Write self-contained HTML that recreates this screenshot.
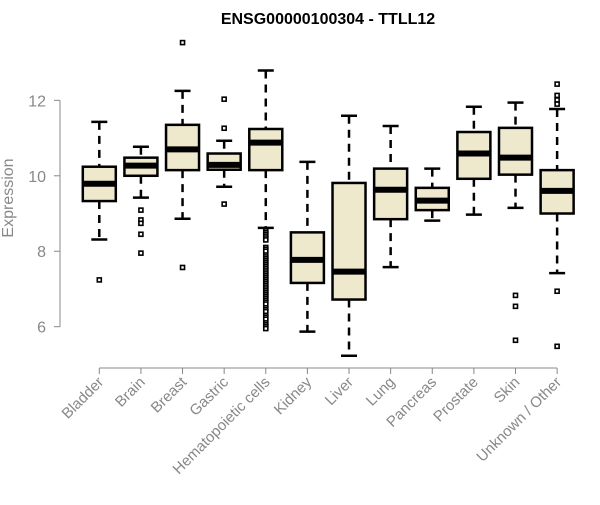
<!DOCTYPE html>
<html><head><meta charset="utf-8"><style>
body{margin:0;background:#fff}
svg text{font-family:"Liberation Sans",Arial,sans-serif}
</style></head><body>
<svg id="chart" width="600" height="500" xmlns="http://www.w3.org/2000/svg">
<text x="328" y="24" text-anchor="middle" font-size="16" font-weight="bold">ENSG00000100304 - TTLL12</text>
<text transform="translate(13,198) rotate(-90)" text-anchor="middle" font-size="16" fill="#888">Expression</text>
<g id="axes"></g><g id="boxes"></g>
</svg>
<script>
const categories=["Bladder","Brain","Breast","Gastric","Hematopoietic cells","Kidney","Liver","Lung","Pancreas","Prostate","Skin","Unknown / Other"];
const whiskLow=[8.31,9.42,8.86,9.71,8.62,5.87,5.23,7.58,8.81,8.97,9.15,7.42];
const q1=[9.33,10.0,10.15,10.16,10.15,7.16,6.72,8.85,9.09,9.92,10.03,9.0];
const medians=[9.79,10.27,10.70,10.29,10.88,7.77,7.46,9.63,9.34,10.59,10.48,9.60];
const q3=[10.24,10.48,11.35,10.59,11.24,8.50,9.81,10.19,9.68,11.16,11.27,10.15];
const whiskHigh=[11.43,10.77,12.25,10.93,12.79,10.37,11.59,11.32,10.19,11.83,11.94,11.77];
const outliers=[[7.24],[9.09,8.83,8.74,8.45,7.95],[13.53,7.57],[12.03,11.26,9.25],
[8.55,8.5,8.45,8.4,8.35,8.3,8.1,8.05,8.0,7.9,7.85,7.8,7.75,7.7,7.65,7.6,7.55,7.5,7.45,7.4,7.35,7.3,7.25,7.2,7.15,7.1,7.05,7.0,6.95,6.9,6.85,6.8,6.75,6.7,6.65,6.6,6.5,6.45,6.4,6.3,6.25,6.2,6.1,6.05,6.0,5.95],
[],[],[],[],[],[6.83,6.54,5.64],[12.43,12.13,12.01,11.90,6.94,5.48]];
const yTicks=[6,8,10,12];
const NS="http://www.w3.org/2000/svg";
function y(v){return 326.7-(v-6)*37.73;}
function x(i){return 99.3+i*41.62;}
function mk(tag,attrs,parent){const e=document.createElementNS(NS,tag);for(const k in attrs)e.setAttribute(k,attrs[k]);parent.appendChild(e);return e;}
const ax=document.getElementById('axes'),bx=document.getElementById('boxes');
let l=mk('line',{x1:60,x2:60,y1:y(12),y2:y(6),stroke:'#888'},ax);


yTicks.forEach(t=>{
 const tk=mk('line',{x1:54,x2:60,y1:y(t),y2:y(t),stroke:'#888'},ax);
 
 
 const tx=mk('text',{x:46,y:y(t)+6,'text-anchor':'end','font-size':16,fill:'#888'},ax);
 tx.textContent=t;
 
 
});
l=mk('line',{x1:x(0),x2:x(11),y1:368,y2:368,stroke:'#888'},ax);


categories.forEach((c,i)=>{
 const cx=x(i),hw=16.5;
 const tk=mk('line',{x1:cx,x2:cx,y1:368,y2:374,stroke:'#888'},ax);
 
 
 const tx=mk('text',{transform:`translate(${cx+5},${383}) rotate(-45)`,'text-anchor':'end','font-size':15,fill:'#888'},ax);
 tx.textContent=c;
 
 
 const g=mk('g',{},bx);
 
 
 mk('line',{x1:cx,x2:cx,y1:y(whiskHigh[i]),y2:y(q3[i]),stroke:'#000','stroke-width':2.5,'stroke-dasharray':'8,6'},g);
 mk('line',{x1:cx,x2:cx,y1:y(q1[i]),y2:y(whiskLow[i]),stroke:'#000','stroke-width':2.5,'stroke-dasharray':'8,6'},g);
 mk('line',{x1:cx-8,x2:cx+8,y1:y(whiskHigh[i]),y2:y(whiskHigh[i]),stroke:'#000','stroke-width':2.5},g);
 mk('line',{x1:cx-8,x2:cx+8,y1:y(whiskLow[i]),y2:y(whiskLow[i]),stroke:'#000','stroke-width':2.5},g);
 mk('rect',{x:cx-hw,y:y(q3[i]),width:2*hw,height:y(q1[i])-y(q3[i]),fill:'#EEE8CD',stroke:'#000','stroke-width':2.5},g);
 mk('line',{x1:cx-hw,x2:cx+hw,y1:y(medians[i]),y2:y(medians[i]),stroke:'#000','stroke-width':6},g);
 outliers[i].forEach(v=>{mk('rect',{x:cx-2,y:y(v)-2,width:4,height:4,fill:'#fff',stroke:'#000','stroke-width':1.6},g);});
});
</script>
</body></html>
